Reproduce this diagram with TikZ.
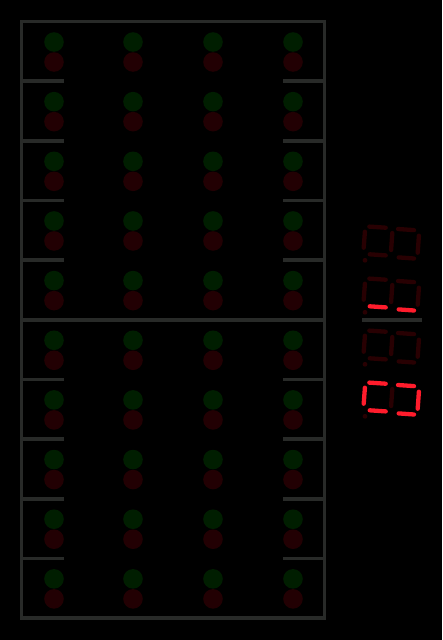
\documentclass[tikz,border=0pt]{standalone}
\usetikzlibrary{calc}
\definecolor{framegray}{RGB}{40,42,40}
\definecolor{ledgreen}{RGB}{0,30,0}
\definecolor{ledred}{RGB}{34,0,3}
\definecolor{segoff}{RGB}{40,0,2}
\definecolor{segon}{RGB}{255,28,44}
\tikzset{
  framel/.style={draw=framegray,line width=3.6pt},
  greenled/.style={fill=ledgreen},
  redled/.style={fill=ledred},
  segbase/.style={line width=4.3pt,line cap=round},
  off/.style={segbase,draw=segoff},
  on/.style={segbase,draw=segon},
}
% display: #1 yshift, then styles for T1,L1,M,B1,T2,R2,B2
\newcommand\sevdisp[8]{%
  \begin{scope}[yshift=-#1pt]
    \draw[#2] (369.3,226.6) -- (385.7,227.7);
    \draw[#3] (364.9,231.7) -- (363.7,247.7);
    \draw[#4] (392.3,233.0) -- (391.1,250.0);
    \draw[#5] (369.7,254.3) -- (385.7,255.4);
    \draw[#6] (398.0,229.0) -- (414.0,230.1);
    \draw[#7] (418.9,235.7) -- (417.7,252.7);
    \draw[#8] (398.7,257.4) -- (414.0,258.5);
    \fill[segoff] (365,260.3) circle (2.4);
  \end{scope}}
\begin{document}
\begin{tikzpicture}[x=1pt,y=-1pt]
\fill[black] (0,0) rectangle (442,640);
\useasboundingbox (0,0) rectangle (442,640);
% LEDs
\foreach \k in {0,...,9}{
  \foreach \cx in {54,133,213,293}{
    \fill[greenled] (\cx,{42+59.65*\k}) circle (9.8);
    \fill[redled] (\cx,{62+59.65*\k}) circle (9.8);
  }
}
% separators
\foreach \k in {1,2,3,4,6,7,8,9}{
  \draw[framel] (21.5,{21.5+59.65*\k}) -- (64,{21.5+59.65*\k});
  \draw[framel] (283,{21.5+59.65*\k}) -- (324.5,{21.5+59.65*\k});
}
\draw[framel] (21.5,319.75) -- (324.5,319.75);
\draw[framel] (21.5,21.5) rectangle (324.5,618);
% displays
\sevdisp{0}{off}{off}{off}{off}{off}{off}{off}
\sevdisp{52}{off}{off}{off}{on}{off}{off}{on}
\sevdisp{104}{off}{off}{off}{off}{off}{off}{off}
\sevdisp{156}{on}{on}{off}{on}{on}{on}{on}
\draw[framel] (362,320) -- (422,320);
\end{tikzpicture}
\end{document}
